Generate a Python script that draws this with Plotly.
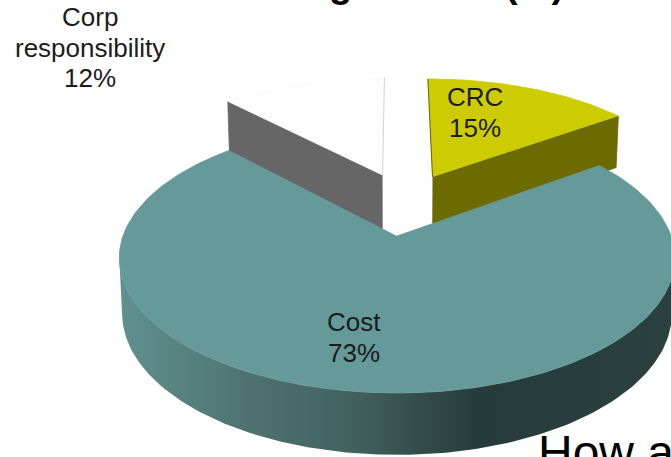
import math
import plotly.graph_objects as go

# Shares of each slice, clockwise from twelve o'clock
categories = [["CRC"], ["Cost"], ["Corp", "responsibility"]]
shares = [15, 73, 12]
top_colors = ["#CCCC00", "#669999", "#FDFDFD"]
wall_colors = ["#6B6B00", None, "#666666"]
# Slices pulled out from the hub, in disc units (right, away from viewer)
pull = [(0.140, 0.485), (0.0, 0.0), (-0.057, 0.502)]
# Centre x and first-line y of each label
label_xy = [(475, 97), (354, 322), (90, 17)]
LINE_STEP = 30.5

# Tilted-disc projection used for the 3D look
HUB_X, HUB_Y = 397, 236
SCALE_X, SCALE_Y = 274, 131.4
PERSPECTIVE = 0.163
DEPTH, DEPTH_FALLOFF = 54, 0.127
BASE_SHRINK = 0.99
WALL_OVERLAP = 4

# Shading along the rim of the large slice: (x position, colour)
rim_shade = [(119, "#60918F"), (250, "#4E7270"), (350, "#426260"),
             (480, "#263B3B"), (671, "#2A4140")]


def top_point(u, v):
    w = 1 + PERSPECTIVE * v
    return HUB_X + SCALE_X * u / w, HUB_Y - SCALE_Y * v / w


def base_point(u, v, extra=0):
    x, y = top_point(u, v)
    return HUB_X + (x - HUB_X) * BASE_SHRINK, y + DEPTH / (1 + DEPTH_FALLOFF * v) + extra


def rim(i, start, sweep, steps):
    """Disc coordinates along the arc of slice i, angles clockwise from the top."""
    ox, oy = pull[i]
    return [(ox + math.sin(math.radians(start + sweep * s / steps)),
             oy + math.cos(math.radians(start + sweep * s / steps)))
            for s in range(steps + 1)]


def polygon(points, color):
    return go.Scatter(x=[p[0] for p in points], y=[p[1] for p in points], mode="lines",
                      fill="toself", fillcolor=color, line=dict(color=color, width=0.8),
                      hoverinfo="skip", showlegend=False)


def edge(a, b, color):
    return go.Scatter(x=[a[0], b[0]], y=[a[1], b[1]], mode="lines",
                      line=dict(color=color, width=1), hoverinfo="skip", showlegend=False)


# Convert shares into slice angles
total = sum(shares)
sweeps = [360 * s / total for s in shares]
starts = [sum(sweeps[:i]) for i in range(len(sweeps))]

fig = go.Figure()

# Pulled-out slices: radial wall first, then the lit top
crc, cost, corp = 0, 1, 2
for i, wall_angle in ((corp, starts[corp]), (crc, starts[crc] + sweeps[crc])):
    ox, oy = pull[i]
    ux = ox + math.sin(math.radians(wall_angle))
    uy = oy + math.cos(math.radians(wall_angle))
    fig.add_trace(polygon([top_point(ox, oy), top_point(ux, uy),
                           base_point(ux, uy, WALL_OVERLAP), base_point(ox, oy, WALL_OVERLAP)],
                          wall_colors[i]))
    arc = rim(i, starts[i], sweeps[i], 40)
    fig.add_trace(polygon([top_point(ox, oy)] + [top_point(*p) for p in arc], top_colors[i]))

# Hairlines along the inner cut of the pulled-out slices
fig.add_trace(edge(top_point(*pull[corp]), top_point(pull[corp][0], pull[corp][1] + 1), "#D2D2D2"))
fig.add_trace(edge(top_point(*pull[crc]), top_point(pull[crc][0], pull[crc][1] + 1), "#6B6B00"))

# Front rim of the large slice, shaded left to right; it runs between the
# disc's left and right silhouette points so the outer edge stays tangent
tangent = math.degrees(math.asin(PERSPECTIVE))
front = rim(cost, 90 + tangent, 180 - 2 * tangent, 160)
outline = [top_point(*p) for p in front] + [base_point(*p) for p in reversed(front)]
span = rim_shade[-1][0] - rim_shade[0][0]
fig.add_trace(go.Scatter(
    x=[p[0] for p in outline], y=[p[1] for p in outline], mode="lines", fill="toself",
    line=dict(width=0), hoverinfo="skip", showlegend=False,
    fillgradient=dict(type="horizontal", start=rim_shade[0][0], stop=rim_shade[-1][0],
                      colorscale=[[(x - rim_shade[0][0]) / span, c] for x, c in rim_shade]),
))

arc = rim(cost, starts[cost], sweeps[cost], 200)
fig.add_trace(polygon([top_point(*pull[cost])] + [top_point(*p) for p in arc], top_colors[cost]))

text_color = "#1C1C1C"
annotations = []
for lines, share, (x, y) in zip(categories, shares, label_xy):
    for n, line in enumerate(lines + [f"{share}%"]):
        annotations.append(dict(x=x, y=y + n * LINE_STEP, text=line, showarrow=False,
                                xanchor="center", yanchor="middle",
                                font=dict(family="Liberation Sans", size=26, color=text_color)))

# Heading and body text that run past the edges of the slide
heading_font = dict(family="Liberation Sans", size=38, color="#000000", weight="bold")
for x, fragment in ((340, "g"), (534, "(%)")):
    annotations.append(dict(x=x, xref="x", y=1.035, yref="paper", text=fragment, showarrow=False,
                            xanchor="center", yanchor="middle", font=heading_font))
annotations.append(dict(x=536, y=452, text="How a", showarrow=False, xanchor="left",
                        yanchor="middle", font=dict(family="Liberation Sans", size=48, color="#000000")))

fig.update_layout(
    width=671, height=457, margin=dict(l=0, r=0, t=0, b=0),
    paper_bgcolor="white", plot_bgcolor="white", showlegend=False,
    xaxis=dict(range=[0, 671], visible=False, fixedrange=True),
    yaxis=dict(range=[457, 0], visible=False, fixedrange=True),
    annotations=annotations,
)
fig.write_html("out.html", config=dict(displayModeBar=False))
